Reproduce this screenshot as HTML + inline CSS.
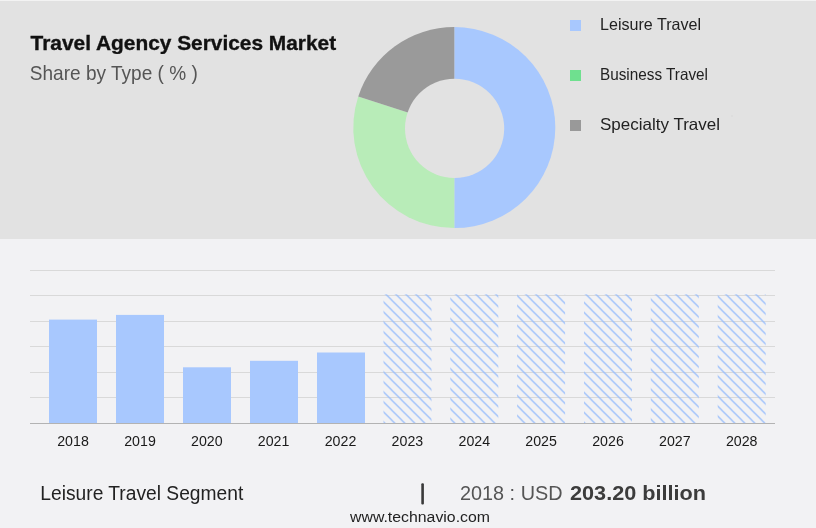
<!DOCTYPE html>
<html><head><meta charset="utf-8">
<style>
html,body{margin:0;padding:0;width:816px;height:528px;overflow:hidden;background:#f2f2f4;}
svg{display:block;font-family:"Liberation Sans", sans-serif;}
text{will-change:transform;}
</style></head>
<body>
<svg width="816" height="528" viewBox="0 0 816 528">
<defs>
<pattern id="hatch" patternUnits="userSpaceOnUse" width="10" height="10" x="1.6" y="0">
<path d="M-1,-1 L11,11 M-6,4 L6,16 M4,-6 L16,6" stroke="#98bdfb" stroke-width="1.25" fill="none"/>
</pattern>
</defs>
<rect x="0" y="0" width="816" height="528" fill="#f2f2f4"/>
<rect x="0" y="0" width="816" height="239" fill="#e2e2e2"/>
<rect x="0" y="0" width="816" height="1" fill="#f3f3f3"/>

<!-- title -->
<text id="t1" x="30.6" y="49.6" font-size="21" font-weight="bold" fill="#111" stroke="#111" stroke-width="0.35" textLength="305.5" lengthAdjust="spacingAndGlyphs">Travel Agency Services Market</text>
<text id="t2" x="29.8" y="80" font-size="19.8" fill="#555" textLength="168" lengthAdjust="spacingAndGlyphs">Share by Type ( % )</text>

<!-- donut -->
<g transform="translate(454.3,127.6) scale(1.005,1)">
<path d="M0,0 L0,-100.5 A100.5,100.5 0 0 1 0,100.5 Z" fill="#a8c8fe"/>
<path d="M0,0 L0,100.5 A100.5,100.5 0 0 1 -95.58,-31.06 Z" fill="#b8ecb8"/>
<path d="M0,0 L-95.58,-31.06 A100.5,100.5 0 0 1 0,-100.5 Z" fill="#9a9a9a"/>
</g>
<circle cx="454.6" cy="128.4" r="49.6" fill="#e2e2e2"/>

<!-- legend -->
<rect x="570" y="20" width="11" height="11" fill="#a8c8fe"/>
<rect x="570" y="70" width="11" height="11" fill="#6fe08f"/>
<rect x="570" y="120" width="11" height="11" fill="#999999"/>
<text id="l1" x="600" y="30" font-size="16.5" fill="#222" textLength="101" lengthAdjust="spacingAndGlyphs">Leisure Travel</text>
<text id="l2" x="600" y="80" font-size="16.5" fill="#222" textLength="108" lengthAdjust="spacingAndGlyphs">Business Travel</text>
<text id="l3" x="600" y="130" font-size="16.5" fill="#222" textLength="120" lengthAdjust="spacingAndGlyphs">Specialty Travel</text>

<rect x="731.5" y="115.5" width="1" height="1" fill="#d0d0d0"/>
<!-- gridlines -->
<g fill="#d9d9d9">
<rect x="30" y="270" width="745" height="1"/>
<rect x="30" y="295" width="745" height="1"/>
<rect x="30" y="321" width="745" height="1"/>
<rect x="30" y="346" width="745" height="1"/>
<rect x="30" y="372" width="745" height="1"/>
<rect x="30" y="397" width="745" height="1"/>
</g>

<!-- bars -->
<g fill="#a8c8fe">
<rect x="49" y="319.6" width="48" height="103.4"/>
<rect x="116" y="314.9" width="48" height="108.1"/>
<rect x="183" y="367.3" width="48" height="55.7"/>
<rect x="250" y="360.8" width="48" height="62.2"/>
<rect x="317" y="352.5" width="48" height="70.5"/>
</g>
<g fill="url(#hatch)">
<rect x="383.5" y="294.3" width="48" height="128.7"/>
<rect x="450.3" y="294.3" width="48" height="128.7"/>
<rect x="517.1" y="294.3" width="48" height="128.7"/>
<rect x="584" y="294.3" width="48" height="128.7"/>
<rect x="650.8" y="294.3" width="48" height="128.7"/>
<rect x="717.7" y="294.3" width="48" height="128.7"/>
</g>
<rect x="30" y="423" width="745" height="1" fill="#b3b3b3"/>

<!-- x labels -->
<g font-size="14.2" fill="#1a1a1a" text-anchor="middle">
<text x="73" y="446">2018</text>
<text x="140" y="446">2019</text>
<text x="206.8" y="446">2020</text>
<text x="273.6" y="446">2021</text>
<text x="340.5" y="446">2022</text>
<text x="407.4" y="446">2023</text>
<text x="474.3" y="446">2024</text>
<text x="541.1" y="446">2025</text>
<text x="608" y="446">2026</text>
<text x="674.8" y="446">2027</text>
<text x="741.7" y="446">2028</text>
</g>

<!-- footer -->
<text id="f1" x="40.3" y="500" font-size="19.4" fill="#222" textLength="203" lengthAdjust="spacingAndGlyphs">Leisure Travel Segment</text>
<rect x="421.3" y="483.3" width="2.6" height="21.3" rx="1" fill="#3a3a3a"/>
<text id="f2" x="460" y="500" font-size="20" fill="#555" textLength="102.5" lengthAdjust="spacingAndGlyphs">2018 : USD</text>
<text id="f3" x="570" y="500" font-size="21" font-weight="bold" fill="#3c3c3c" textLength="136" lengthAdjust="spacingAndGlyphs">203.20 billion</text>
<text id="f4" x="350" y="522" font-size="15.3" fill="#222" textLength="140" lengthAdjust="spacingAndGlyphs">www.technavio.com</text>
</svg>
</body></html>
